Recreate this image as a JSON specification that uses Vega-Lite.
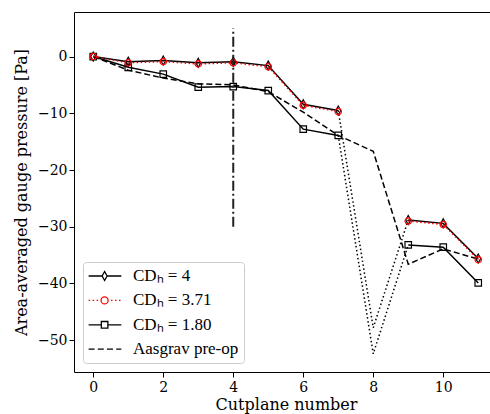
{
  "$schema": "https://vega.github.io/schema/vega-lite/v6.json",
  "autosize": "none",
  "width": 416,
  "height": 360,
  "padding": {"left": 74, "top": 12, "right": 0, "bottom": 42},
  "background": "white",
  "datasets": {
    "main": [
      {"s": "CDₕ = 4", "part": "a", "x": 0, "y": 0},
      {"s": "CDₕ = 4", "part": "a", "x": 1, "y": -0.9},
      {"s": "CDₕ = 4", "part": "a", "x": 2, "y": -0.7},
      {"s": "CDₕ = 4", "part": "a", "x": 3, "y": -1.1},
      {"s": "CDₕ = 4", "part": "a", "x": 4, "y": -0.9},
      {"s": "CDₕ = 4", "part": "a", "x": 5, "y": -1.6},
      {"s": "CDₕ = 4", "part": "a", "x": 6, "y": -8.4},
      {"s": "CDₕ = 4", "part": "a", "x": 7, "y": -9.5},
      {"s": "CDₕ = 4", "part": "b", "x": 9, "y": -28.8},
      {"s": "CDₕ = 4", "part": "b", "x": 10, "y": -29.4},
      {"s": "CDₕ = 4", "part": "b", "x": 11, "y": -35.6},
      {"s": "CDₕ = 3.71", "part": "a", "x": 0, "y": 0},
      {"s": "CDₕ = 3.71", "part": "a", "x": 1, "y": -1.1},
      {"s": "CDₕ = 3.71", "part": "a", "x": 2, "y": -0.9},
      {"s": "CDₕ = 3.71", "part": "a", "x": 3, "y": -1.3},
      {"s": "CDₕ = 3.71", "part": "a", "x": 4, "y": -1.1},
      {"s": "CDₕ = 3.71", "part": "a", "x": 5, "y": -1.8},
      {"s": "CDₕ = 3.71", "part": "a", "x": 6, "y": -8.6},
      {"s": "CDₕ = 3.71", "part": "a", "x": 7, "y": -9.7},
      {"s": "CDₕ = 3.71", "part": "b", "x": 9, "y": -29.0},
      {"s": "CDₕ = 3.71", "part": "b", "x": 10, "y": -29.6},
      {"s": "CDₕ = 3.71", "part": "b", "x": 11, "y": -35.8},
      {"s": "CDₕ = 1.80", "part": "a", "x": 0, "y": 0},
      {"s": "CDₕ = 1.80", "part": "a", "x": 1, "y": -1.9},
      {"s": "CDₕ = 1.80", "part": "a", "x": 2, "y": -3.1},
      {"s": "CDₕ = 1.80", "part": "a", "x": 3, "y": -5.4},
      {"s": "CDₕ = 1.80", "part": "a", "x": 4, "y": -5.3},
      {"s": "CDₕ = 1.80", "part": "a", "x": 5, "y": -6.0},
      {"s": "CDₕ = 1.80", "part": "a", "x": 6, "y": -12.8},
      {"s": "CDₕ = 1.80", "part": "a", "x": 7, "y": -13.9},
      {"s": "CDₕ = 1.80", "part": "b", "x": 9, "y": -33.2},
      {"s": "CDₕ = 1.80", "part": "b", "x": 10, "y": -33.6},
      {"s": "CDₕ = 1.80", "part": "b", "x": 11, "y": -39.9},
      {"s": "Aasgrav pre-op", "part": "a", "x": 0, "y": 0},
      {"s": "Aasgrav pre-op", "part": "a", "x": 1, "y": -2.4},
      {"s": "Aasgrav pre-op", "part": "a", "x": 2, "y": -3.8},
      {"s": "Aasgrav pre-op", "part": "a", "x": 3, "y": -4.8},
      {"s": "Aasgrav pre-op", "part": "a", "x": 4, "y": -5.0},
      {"s": "Aasgrav pre-op", "part": "a", "x": 5, "y": -6.2},
      {"s": "Aasgrav pre-op", "part": "a", "x": 6, "y": -9.8},
      {"s": "Aasgrav pre-op", "part": "a", "x": 7, "y": -13.9},
      {"s": "Aasgrav pre-op", "part": "a", "x": 8, "y": -16.7},
      {"s": "Aasgrav pre-op", "part": "a", "x": 9, "y": -36.6},
      {"s": "Aasgrav pre-op", "part": "a", "x": 10, "y": -33.9},
      {"s": "Aasgrav pre-op", "part": "a", "x": 11, "y": -35.7}
    ],
    "gap": [
      {"s": "CDₕ = 4", "x": 7, "y": -9.5},
      {"s": "CDₕ = 4", "x": 8, "y": -47.8},
      {"s": "CDₕ = 4", "x": 9, "y": -28.8},
      {"s": "CDₕ = 1.80", "x": 7, "y": -13.9},
      {"s": "CDₕ = 1.80", "x": 8, "y": -52.4},
      {"s": "CDₕ = 1.80", "x": 9, "y": -33.2}
    ],
    "vline": [
      {"x": 4, "y": -30, "y2": 5}
    ]
  },
  "encoding": {
    "y": {
      "field": "y",
      "type": "quantitative",
      "scale": {"domain": [-55.6, 7.85], "nice": false, "zero": false},
      "axis": {"values": [-50, -40, -30, -20, -10, 0], "title": "Area-averaged gauge pressure [Pa]", "tickSize": 5, "labelPadding": 2, "titlePadding": 8}
    }
  },
  "resolve": {"axis": {"x": "independent"}},
  "layer": [
    {
      "data": {"name": "gap"},
      "mark": {"type": "line", "color": "black", "strokeWidth": 1.5, "strokeDash": [1.5, 2.5]},
      "encoding": {
        "x": {"field": "x", "type": "quantitative", "scale": {"domain": [-0.55, 11.336], "nice": false, "zero": false}, "axis": null},
        "detail": {"field": "s"}
      }
    },
    {
      "data": {"name": "main"},
      "transform": [{"filter": "datum.s == 'Aasgrav pre-op'"}],
      "mark": {"type": "line", "color": "black", "strokeWidth": 1.5, "strokeDash": [6, 3]},
      "encoding": {
        "x": {"field": "x", "type": "quantitative", "axis": null}
      }
    },
    {
      "data": {"name": "main"},
      "transform": [{"filter": "datum.s == 'CDₕ = 1.80'"}],
      "mark": {"type": "line", "color": "black", "strokeWidth": 1.5},
      "encoding": {
        "x": {"field": "x", "type": "quantitative", "axis": {"orient": "bottom", "values": [0, 2, 4, 6, 8, 10], "title": "Cutplane number", "tickSize": 5, "labelPadding": 3, "titlePadding": 2, "titleX": 212, "titleAlign": "center"}},
        "detail": {"field": "part"}
      }
    },
    {
      "data": {"name": "main"},
      "transform": [{"filter": "datum.s == 'CDₕ = 1.80'"}],
      "mark": {"type": "point", "shape": "square", "filled": false, "color": "black", "strokeWidth": 1.2, "size": 42, "opacity": 1},
      "encoding": {
        "x": {"field": "x", "type": "quantitative", "axis": null}
      }
    },
    {
      "data": {"name": "main"},
      "transform": [{"filter": "datum.s == 'CDₕ = 4'"}],
      "mark": {"type": "line", "color": "black", "strokeWidth": 1.5},
      "encoding": {
        "x": {"field": "x", "type": "quantitative", "axis": null},
        "detail": {"field": "part"}
      }
    },
    {
      "data": {"name": "main"},
      "transform": [{"filter": "datum.s == 'CDₕ = 4'"}],
      "mark": {"type": "point", "shape": "M0,-1L0.55,0L0,1L-0.55,0Z", "filled": false, "color": "black", "strokeWidth": 1.2, "size": 81, "opacity": 1},
      "encoding": {
        "x": {"field": "x", "type": "quantitative", "axis": null}
      }
    },
    {
      "data": {"name": "main"},
      "transform": [{"filter": "datum.s == 'CDₕ = 3.71'"}],
      "mark": {"type": "line", "color": "#ff0000", "strokeWidth": 1.5, "strokeDash": [1.5, 2.5]},
      "encoding": {
        "x": {"field": "x", "type": "quantitative", "axis": null},
        "detail": {"field": "part"}
      }
    },
    {
      "data": {"name": "main"},
      "transform": [{"filter": "datum.s == 'CDₕ = 3.71'"}],
      "mark": {"type": "point", "shape": "circle", "filled": false, "color": "#ff0000", "strokeWidth": 1.3, "size": 40, "opacity": 1},
      "encoding": {
        "x": {"field": "x", "type": "quantitative", "axis": null}
      }
    },
    {
      "data": {"name": "vline"},
      "mark": {"type": "rule", "color": "#222222", "strokeWidth": 2, "strokeDash": [10, 3, 2, 3]},
      "encoding": {
        "x": {"field": "x", "type": "quantitative", "axis": {"orient": "top", "labels": false, "ticks": false, "title": null, "domain": true}},
        "y2": {"field": "y2"}
      }
    },
    {
      "data": {"name": "main"},
      "transform": [{"filter": "datum.x > 100"}],
      "mark": {"type": "point", "filled": false, "strokeWidth": 1.3, "opacity": 1},
      "encoding": {
        "x": {"field": "x", "type": "quantitative", "axis": null},
        "shape": {
          "field": "s",
          "type": "nominal",
          "scale": {
            "domain": ["CDₕ = 4", "CDₕ = 3.71", "CDₕ = 1.80", "Aasgrav pre-op"],
            "range": [
              "M-1.05,0H0.64M1.26,0H3.04M0.95,-0.56L1.26,0L0.95,0.56L0.64,0Z",
              "M-1.05,0H-0.86M-0.55,0H-0.36M-0.05,0H0.14M0.51,0A0.44,0.44 0 1,0 1.39,0A0.44,0.44 0 1,0 0.51,0M1.75,0H1.94M2.25,0H2.44M2.75,0H2.94",
              "M-1.05,0H0.54M1.36,0H3.04M0.54,-0.41H1.36V0.41H0.54Z",
              "M-1.05,0H-0.3M0.1,0H0.85M1.25,0H2.0M2.4,0H3.04"
            ]
          },
          "legend": {
            "title": null,
            "orient": "bottom-left",
            "offset": 9,
            "labelFont": "Liberation Serif",
            "labelFontSize": 17
          }
        },
        "color": {
          "field": "s",
          "type": "nominal",
          "scale": {
            "domain": ["CDₕ = 4", "CDₕ = 3.71", "CDₕ = 1.80", "Aasgrav pre-op"],
            "range": ["black", "#ff0000", "black", "black"]
          },
          "legend": {
            "title": null,
            "orient": "bottom-left",
            "offset": 9,
            "labelFont": "Liberation Serif",
            "labelFontSize": 17
          }
        }
      }
    }
  ],
  "config": {
    "view": {"stroke": null},
    "axis": {
      "labelFont": "DejaVu Serif",
      "titleFont": "DejaVu Serif",
      "labelFontSize": 14,
      "titleFontSize": 16,
      "titleFontWeight": "normal",
      "labelColor": "black",
      "titleColor": "black",
      "domainColor": "black",
      "domainWidth": 1,
      "tickColor": "black",
      "tickWidth": 1,
      "grid": false
    },
    "legend": {
      "labelColor": "black",
      "fillColor": "white",
      "strokeColor": "#cccccc",
      "cornerRadius": 3,
      "padding": 5,
      "symbolSize": 256,
      "symbolStrokeWidth": 1.3,
      "symbolFillColor": "transparent",
      "labelOffset": 27,
      "rowPadding": 7.4,
      "labelLimit": 200
    }
  }
}
